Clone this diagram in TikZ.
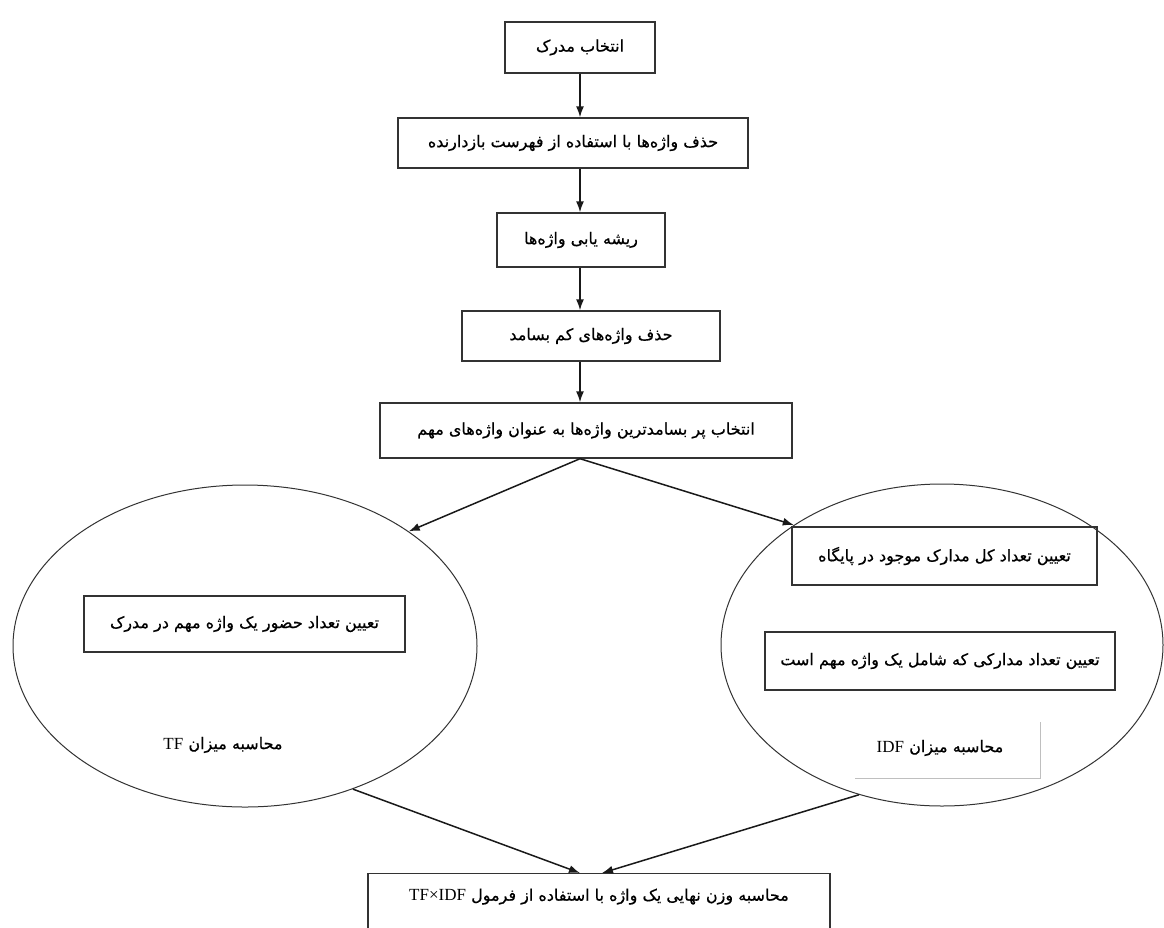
\documentclass[tikz,border=0pt]{standalone}
\usepackage{fontspec}
\TeXXeTstate=1
\newfontfamily\arabicfont[Script=Arabic,FakeBold=0.6]{DejaVu Sans}
\newfontfamily\latinfont{Liberation Serif}
\usetikzlibrary{shapes.geometric,arrows.meta}
\tikzset{
  stepbox/.style={draw=black!80, line width=1.4pt, rectangle, inner sep=0pt, font=\arabicfont\fontsize{16}{18}\selectfont},
  oval/.style={draw=black!80, line width=1pt, ellipse, inner sep=0pt},
  lbl/.style={inner sep=0pt, font=\arabicfont\fontsize{16}{18}\selectfont},
  arr/.style={draw=black!90, line width=1.5pt, -{Latex[length=11pt,width=8pt]}},
}
\newcommand{\rtl}[1]{\beginR #1\endR}
\newcommand{\lat}[1]{\beginL{\latinfont\fontsize{17}{19}\selectfont #1}\endL}
\begin{document}
\begin{tikzpicture}[x=1pt,y=-1pt]
\useasboundingbox (0,0) rectangle (1164,927);
\fill[white] (0,0) rectangle (1164,927);

\node[stepbox, minimum width=150pt, minimum height=51pt] (b1) at (580,47.5) {\rtl{انتخاب مدرک}};
\node[stepbox, minimum width=350pt, minimum height=50pt] (b2) at (573,143) {\rtl{حذف واژه^^^^200cها با استفاده از فهرست بازدارنده}};
\node[stepbox, minimum width=168pt, minimum height=54pt] (b3) at (581,240) {\rtl{ریشه یابی واژه^^^^200cها}};
\node[stepbox, minimum width=258pt, minimum height=50pt] (b4) at (591,336) {\rtl{حذف واژه^^^^200cهای کم بسامد}};
\node[stepbox, minimum width=412pt, minimum height=55pt] (b5) at (586,430.5) {\rtl{انتخاب پر بسامدترین واژه^^^^200cها به عنوان واژه^^^^200cهای مهم}};

\node[oval, minimum width=464pt, minimum height=322pt] (eL) at (245,646) {};
\node[oval, minimum width=442pt, minimum height=322pt] (eR) at (942,645) {};

\node[stepbox, minimum width=321pt, minimum height=56pt] (tfbox) at (244.5,624) {\rtl{تعیین تعداد حضور یک واژه مهم در مدرک}};
\node[lbl] (tf) at (223,745) {\rtl{محاسبه میزان \lat{TF}}};

\node[stepbox, minimum width=305pt, minimum height=58pt] (idf1) at (944.5,556) {\rtl{تعیین تعداد کل مدارک موجود در پایگاه}};
\node[stepbox, minimum width=350pt, minimum height=58pt] (idf2) at (940,661) {\rtl{تعیین تعداد مدارکی که شامل یک واژه مهم است}};
\node[lbl] (idf) at (940,748) {\rtl{محاسبه میزان \lat{IDF}}};
\coordinate (ic1) at (1040,722);
\coordinate (ic2) at (1040,778);
\coordinate (ic3) at (855,778);
\draw[black!25, line width=0.8pt] (ic1) -- (ic2) -- (ic3);

\node[stepbox, anchor=north, minimum width=462pt, text height=14pt, text depth=30pt, inner ysep=13pt] (bf) at (599,873) {\rtl{محاسبه وزن نهایی یک واژه با استفاده از فرمول \lat{TF×IDF}}};

\draw[arr] (b1.south) -- (b1.south |- b2.north);
\draw[arr] (b1.south |- b2.south) -- (b1.south |- b3.north);
\draw[arr] (b1.south |- b3.south) -- (b1.south |- b4.north);
\draw[arr] (b1.south |- b4.south) -- (b1.south |- b5.north);
\draw[arr] (b1.south |- b5.south) -- (eL.35);
\draw[arr] (b1.south |- b5.south) -- (eR.141);
\draw[arr] (eL.-53) -- ([xshift=-19pt]bf.north);
\draw[arr] (eR.-119) -- ([xshift=3pt]bf.north);
\end{tikzpicture}
\end{document}
